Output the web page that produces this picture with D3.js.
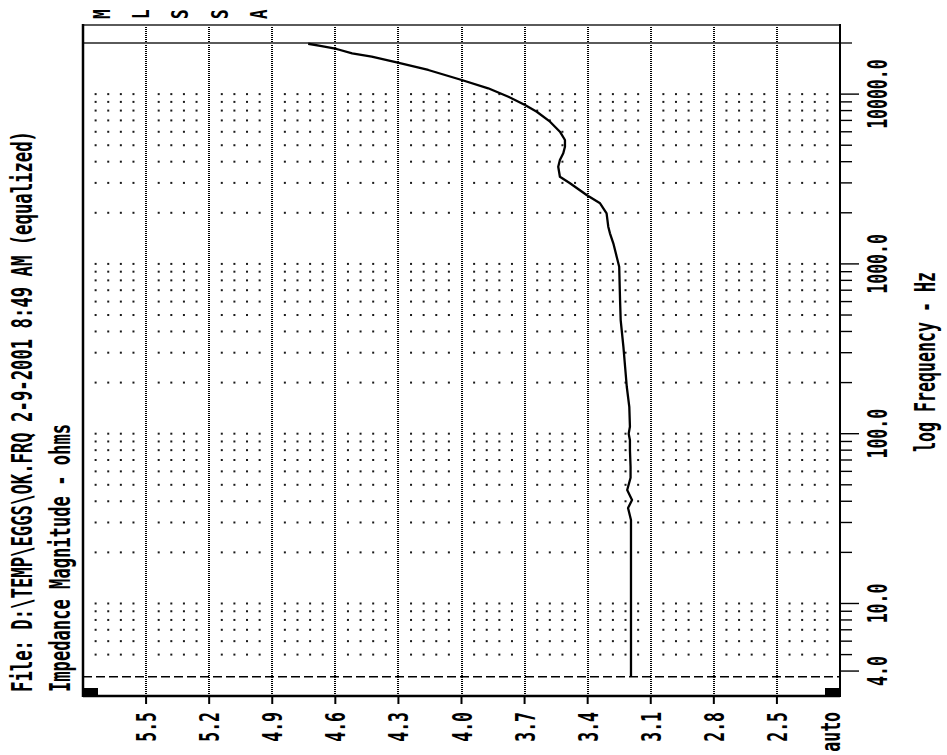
<!DOCTYPE html>
<html>
<head>
<meta charset="utf-8">
<script src="https://cdn.jsdelivr.net/npm/d3@7"></script>
<style>
html,body{margin:0;padding:0;background:#fff;}
svg{display:block;}
</style>
</head>
<body>
<svg id="chart" width="947" height="755"></svg>
<script>
// ---------- data ----------
const titleText = "File: D:\\TEMP\\EGGS\\OK.FRQ 2-9-2001 8:49 AM (equalized)";
const yTitle = "Impedance Magnitude - ohms";
const xTitle = "log Frequency - Hz";
const brandLetters = ["M", "L", "S", "S", "A"];

// impedance axis (drawn horizontally, decreasing to the right)
const ohmTicks = [5.5, 5.2, 4.9, 4.6, 4.3, 4.0, 3.7, 3.4, 3.1, 2.8, 2.5];
const ohmTickLabels = ["5.5", "5.2", "4.9", "4.6", "4.3", "4.0", "3.7", "3.4", "3.1", "2.8", "2.5"];
const autoLabel = "auto";

// frequency axis (drawn vertically, log)
const freqLabelValues = [4, 10, 100, 1000, 10000];
const freqLabels = ["4.0", "10.0", "100.0", "1000.0", "10000.0"];
const freqMinorTicks = [5, 6, 7, 8, 9, 20, 30, 40, 50, 60, 70, 80, 90,
  200, 300, 400, 500, 600, 700, 800, 900,
  2000, 3000, 4000, 5000, 6000, 7000, 8000, 9000];
const freqGridRows = [5, 6, 7, 8, 9, 10, 20, 30, 40, 50, 60, 70, 80, 90, 100,
  200, 300, 400, 500, 600, 700, 800, 900, 1000,
  2000, 3000, 4000, 5000, 6000, 7000, 8000, 9000, 10000];
const freqLimitTop = 20000;
const cursorFreq = 3.7;

// measured curve
const freqHz = [3.7, 8, 18, 31, 36.5, 40.7, 46.6, 55, 63.9, 80, 91.8, 100, 110, 144, 189, 248, 325, 467, 613,
  963, 1103, 1322, 1514, 1656, 1987, 2275, 2545, 2984, 3262, 3736, 4092, 4480, 4900, 5366, 6005, 6879,
  7876, 8627, 9654, 10820, 12110, 13870, 15390, 16610, 17390, 18440, 19200, 19800];
const ohms = [3.194, 3.194, 3.194, 3.194, 3.208, 3.189, 3.212, 3.196, 3.196, 3.199, 3.199, 3.205, 3.199, 3.202, 3.214, 3.222, 3.230, 3.243, 3.246,
  3.250, 3.262, 3.278, 3.294, 3.302, 3.310, 3.341, 3.405, 3.484, 3.532, 3.540, 3.532, 3.516, 3.508, 3.508, 3.532, 3.579,
  3.642, 3.698, 3.777, 3.873, 3.999, 4.158, 4.308, 4.427, 4.520, 4.594, 4.665, 4.729];

// ---------- layout ----------
const svg = d3.select("#chart");
const L = 83, R = 840, T = 25, B = 696;
const x = d3.scaleLinear().domain([5.8, 2.2]).range([L, R]);
const y = d3.scaleLog().domain([2.852, 25530]).range([B, T]);
const FONT = "'DejaVu Sans Mono', monospace";

function vtext(str, bx, by, o) {
  const g = svg.append("g")
    .attr("transform", `translate(${bx},${by}) rotate(-90) scale(1,${o.k || 1.7})`);
  const t = g.append("text")
    .attr("x", 0).attr("y", 0)
    .attr("font-family", FONT)
    .attr("font-size", o.size || 16.5)
    .attr("font-weight", o.weight || "bold")
    .attr("text-anchor", o.anchor || "start")
    .attr("fill", "#000")
    .text(str);
  if (o.len) t.attr("textLength", o.len).attr("lengthAdjust", "spacingAndGlyphs");
  return t;
}

// ---------- grid: horizontal dotted rows ----------
const dotOhms = d3.range(1, 60).map(i => +(5.8 - i * 0.06).toFixed(2))
  .filter(v => !ohmTicks.some(t => Math.abs(t - v) < 1e-6));
const rows = svg.append("g");
freqGridRows.forEach(f => {
  rows.selectAll(null).data(dotOhms).enter().append("rect")
    .attr("x", d => x(d) - 1).attr("y", y(f) - 1)
    .attr("width", 2).attr("height", 2)
    .attr("fill", "#1a1a1a");
});

// vertical dotted grid lines at ohm ticks
svg.append("g").selectAll("line").data(ohmTicks).enter().append("line")
  .attr("x1", d => Math.round(x(d))).attr("x2", d => Math.round(x(d)))
  .attr("y1", T).attr("y2", B)
  .attr("stroke", "#000").attr("stroke-width", 2)
  .attr("shape-rendering", "crispEdges")
  .attr("stroke-dasharray", "1,1");

// dashed cursor line
svg.append("line")
  .attr("x1", L).attr("x2", R).attr("y1", y(cursorFreq)).attr("y2", y(cursorFreq))
  .attr("stroke", "#000").attr("stroke-width", 1.4).attr("stroke-dasharray", "9,4");

// top limit line (gray) and top border
svg.append("line").attr("x1", L).attr("x2", R + 12)
  .attr("y1", y(freqLimitTop)).attr("y2", y(freqLimitTop))
  .attr("stroke", "#5a5a5a").attr("stroke-width", 2);
svg.append("line").attr("x1", L).attr("x2", R).attr("y1", T).attr("y2", T)
  .attr("stroke", "#5a5a5a").attr("stroke-width", 2);

// frame borders
svg.append("line").attr("x1", L).attr("x2", L).attr("y1", T - 1).attr("y2", B + 1)
  .attr("stroke", "#000").attr("stroke-width", 2.5);
svg.append("line").attr("x1", R).attr("x2", R).attr("y1", T - 1).attr("y2", B + 1)
  .attr("stroke", "#000").attr("stroke-width", 2);
svg.append("line").attr("x1", L).attr("x2", R).attr("y1", B).attr("y2", B)
  .attr("stroke", "#000").attr("stroke-width", 2.5);

// corner blocks
svg.append("rect").attr("x", L).attr("y", B - 8).attr("width", 15).attr("height", 8).attr("fill", "#000");
svg.append("rect").attr("x", R - 15).attr("y", B - 8).attr("width", 15).attr("height", 8).attr("fill", "#000");

// ---------- curve ----------
const pts = freqHz.map((f, i) => [f, ohms[i]]);
svg.append("path").datum(pts)
  .attr("d", d3.line().x(d => x(d[1])).y(d => y(d[0])))
  .attr("fill", "none").attr("stroke", "#000").attr("stroke-width", 2.3)
  .attr("stroke-linejoin", "round");

// ---------- axes ticks ----------
svg.append("g").selectAll("line").data(ohmTicks).enter().append("line")
  .attr("x1", d => x(d)).attr("x2", d => x(d)).attr("y1", B).attr("y2", B + 8)
  .attr("stroke", "#000").attr("stroke-width", 2);
svg.append("g").selectAll("line").data(freqMinorTicks).enter().append("line")
  .attr("x1", R).attr("x2", R + 12).attr("y1", d => y(d)).attr("y2", d => y(d))
  .attr("stroke", "#000").attr("stroke-width", 1.4);
svg.append("g").selectAll("line").data(freqLabelValues).enter().append("line")
  .attr("x1", R).attr("x2", R + 19).attr("y1", d => y(d)).attr("y2", d => y(d))
  .attr("stroke", "#000").attr("stroke-width", 1.4);

// ---------- text ----------
ohmTicks.forEach((v, i) => vtext(ohmTickLabels[i], x(v) + 10, 712, { anchor: "end", k: 1.65 }));
vtext(autoLabel, 840, 712, { anchor: "end", k: 1.65 });

freqLabelValues.forEach((f, i) => vtext(freqLabels[i], 887, y(f), { anchor: "middle", k: 1.6 }));

vtext(titleText, 32, 692, { len: 561, k: 1.75 });
vtext(yTitle, 70, 692, { len: 268, k: 1.75 });
vtext(xTitle, 935, 452, { len: 180, k: 1.75 });

brandLetters.forEach((c, i) => vtext(c, 110 + i * 39.2, 19, { size: 16, k: 1.45 }));
</script>
</body>
</html>
